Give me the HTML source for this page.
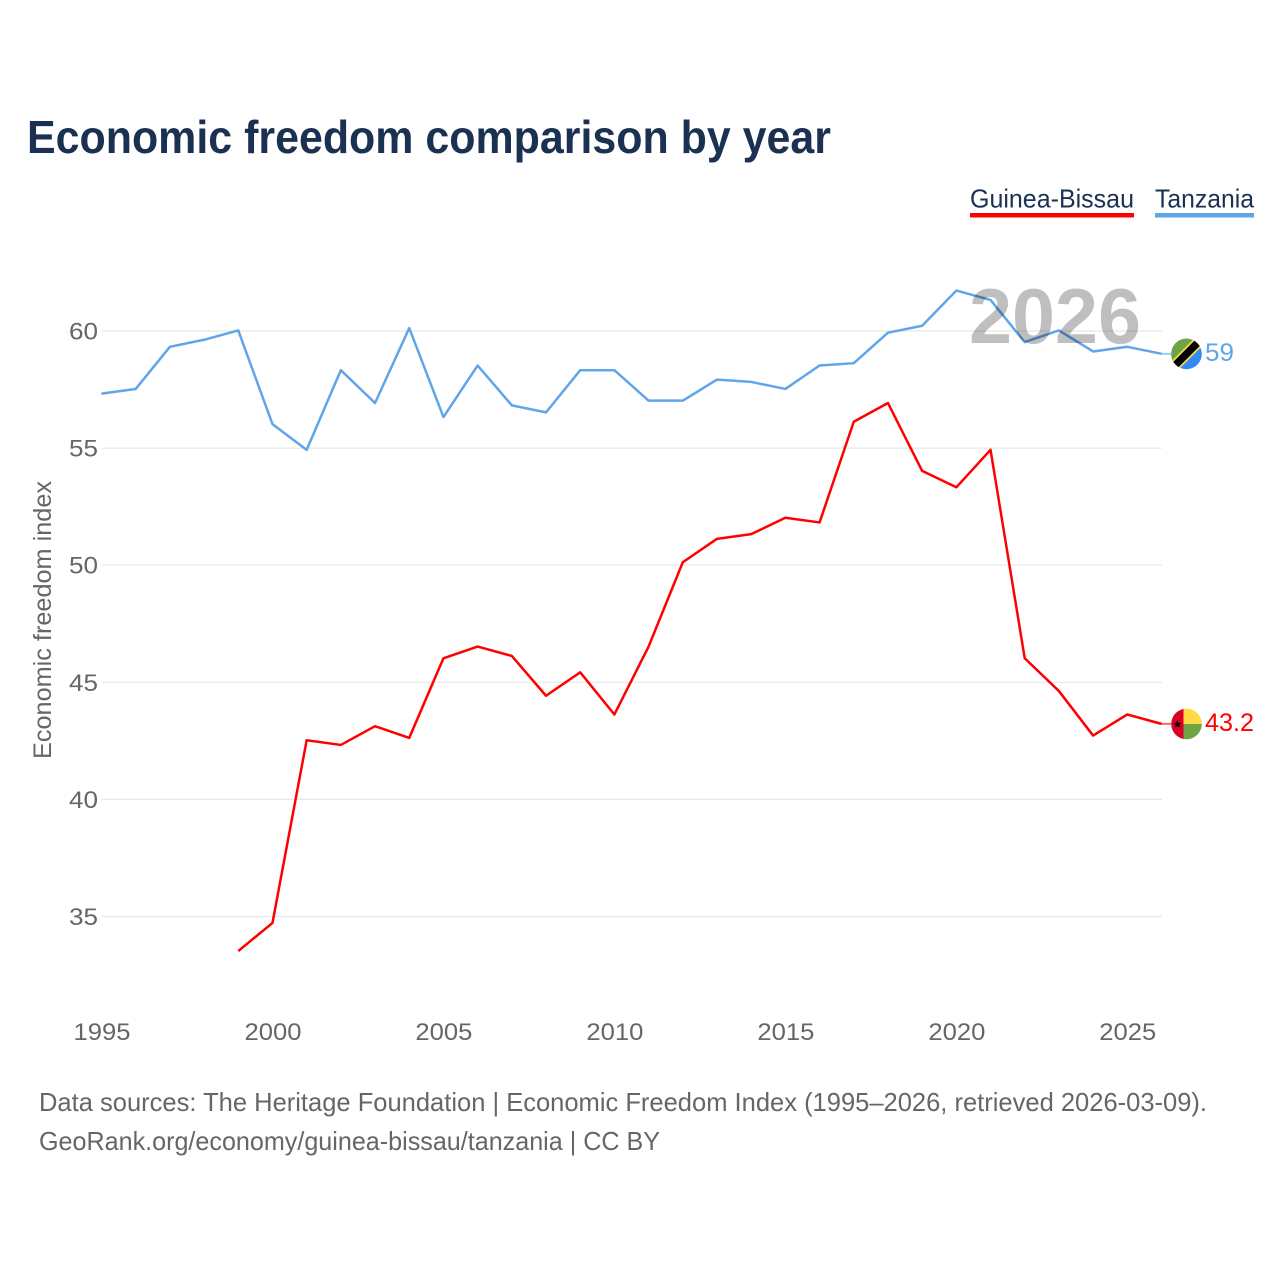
<!DOCTYPE html>
<html lang="en">
<head>
<meta charset="utf-8">
<title>Economic freedom comparison by year</title>
<style>
html,body{margin:0;padding:0;background:#fff;}
svg{display:block;font-family:"Liberation Sans",sans-serif;}
</style>
</head>
<body>
<svg id="chart" xmlns="http://www.w3.org/2000/svg" width="1280" height="1280" viewBox="0 0 1280 1280">
  <rect width="1280" height="1280" fill="#ffffff"/>
  <text x="27" y="153" font-size="46" font-weight="700" fill="#1a3152" textLength="804" lengthAdjust="spacingAndGlyphs">Economic freedom comparison by year</text>

  <g>
    <g>
      <text x="970" y="207.5" font-size="26" fill="#1a3152" textLength="164" lengthAdjust="spacingAndGlyphs">Guinea-Bissau</text>
      <rect x="970" y="213" width="164" height="4.5" fill="#ff0000"/>
    </g>
    <g>
      <text x="1155" y="207.5" font-size="26" fill="#1a3152" textLength="99" lengthAdjust="spacingAndGlyphs">Tanzania</text>
      <rect x="1155" y="213" width="99" height="4.5" fill="#60a5ea"/>
    </g>
  </g>

  <g id="grid"></g>
  <g id="yticks"></g>
  <g id="xticks"></g>

  <text transform="translate(51,759) rotate(-90)" font-size="25" fill="#666666" textLength="278" lengthAdjust="spacingAndGlyphs">Economic freedom index</text>

  <g id="series" transform="translate(-0.5,-0.6)"></g>

  <text x="969" y="343" font-size="78" font-weight="700" fill="#000000" fill-opacity="0.25" textLength="172" lengthAdjust="spacingAndGlyphs">2026</text>

  <defs>
    <clipPath id="clip-tz"><circle id="clip-tz-circle" r="15.3"/></clipPath>
    <clipPath id="clip-gw"><circle id="clip-gw-circle" r="15.3"/></clipPath>
  </defs>

  <g id="flag-tz" clip-path="url(#clip-tz)">
    <rect x="-16" y="-16" width="32" height="32" fill="#338af3"/>
    <polygon points="-16,-16 16,-16 -16,16" fill="#6da544"/>
    <line x1="-15" y1="15" x2="15" y2="-15" stroke="#ffda44" stroke-width="11"/>
    <line x1="-15" y1="15" x2="15" y2="-15" stroke="#000000" stroke-width="7.5"/>
  </g>

  <g id="flag-gw" clip-path="url(#clip-gw)">
    <rect x="-4" y="-16" width="20" height="16" fill="#ffda44"/>
    <rect x="-4" y="0" width="20" height="16" fill="#6da544"/>
    <rect x="-16" y="-16" width="13" height="32" fill="#d80027"/>
    <polygon points="-9,-3.6 -7.9,-0.9 -5,-0.9 -7.3,0.9 -6.5,3.6 -9,2 -11.5,3.6 -10.7,0.9 -13,-0.9 -10.1,-0.9" fill="#000000"/>
  </g>

  <text id="label-tz" x="1205" font-size="25" fill="#60a5ea" textLength="29" lengthAdjust="spacingAndGlyphs"></text>
  <text id="label-gw" x="1205" font-size="25" fill="#ff0000" textLength="49" lengthAdjust="spacingAndGlyphs"></text>

  <g>
    <text x="39" y="1111" font-size="26" fill="#666666" textLength="1168" lengthAdjust="spacingAndGlyphs">Data sources: The Heritage Foundation | Economic Freedom Index (1995–2026, retrieved 2026-03-09).</text>
    <text x="39" y="1150" font-size="26" fill="#666666" textLength="621" lengthAdjust="spacingAndGlyphs">GeoRank.org/economy/guinea-bissau/tanzania | CC BY</text>
  </g>
</svg>

<script>
const years = [1995,1996,1997,1998,1999,2000,2001,2002,2003,2004,2005,2006,2007,2008,2009,2010,2011,2012,2013,2014,2015,2016,2017,2018,2019,2020,2021,2022,2023,2024,2025,2026];
const tanzaniaValues = [57.3,57.5,59.3,59.6,60,56,54.9,58.3,56.9,60.1,56.3,58.5,56.8,56.5,58.3,58.3,57,57,57.9,57.8,57.5,58.5,58.6,59.9,60.2,61.7,61.3,59.5,60,59.1,59.3,59];
const guineaBissauValues = [null,null,null,null,33.5,34.7,42.5,42.3,43.1,42.6,46,46.5,46.1,44.4,45.4,43.6,46.5,50.1,51.1,51.3,52,51.8,56.1,56.9,54,53.3,54.9,46,44.6,42.7,43.6,43.2];
const yTicks = [35,40,45,50,55,60];
const xTicks = [1995,2000,2005,2010,2015,2020,2025];

const NS = 'http://www.w3.org/2000/svg';
function xScale(year){ return 102 + (year - 1995) * (1162 - 102) / 31; }
function yScale(v){ return 331 + (60 - v) * (916.5 - 331) / 25; }
function make(tag, parent){
  const el = document.createElementNS(NS, tag);
  parent.appendChild(el);
  return el;
}

const gridGroup = document.getElementById('grid');
const yTickGroup = document.getElementById('yticks');
yTicks.forEach(function(t){
  const line = make('line', gridGroup);
  
  
  line.setAttribute('x1', 102);
  line.setAttribute('x2', 1162);
  line.setAttribute('y1', yScale(t));
  line.setAttribute('y2', yScale(t));
  line.setAttribute('stroke', '#e8e8e8');
  line.setAttribute('stroke-width', '1.2');
  const label = make('text', yTickGroup);
  
  
  label.setAttribute('x', 69);
  label.setAttribute('y', yScale(t) + 8.5);
  label.setAttribute('font-size', '24');
  label.setAttribute('fill', '#666666');
  label.setAttribute('textLength', '29');
  label.setAttribute('lengthAdjust', 'spacingAndGlyphs');
  label.textContent = t;
});

const xTickGroup = document.getElementById('xticks');
xTicks.forEach(function(t){
  const label = make('text', xTickGroup);
  
  
  label.setAttribute('x', xScale(t));
  label.setAttribute('y', 1040);
  label.setAttribute('text-anchor', 'middle');
  label.setAttribute('font-size', '24');
  label.setAttribute('fill', '#666666');
  label.setAttribute('textLength', '57');
  label.setAttribute('lengthAdjust', 'spacingAndGlyphs');
  label.textContent = t;
});

function linePoints(values){
  const pts = [];
  values.forEach(function(v, i){
    if (v !== null) pts.push(xScale(years[i]).toFixed(2) + ',' + yScale(v).toFixed(2));
  });
  return pts.join(' ');
}
const seriesGroup = document.getElementById('series');

const tzLine = make('polyline', seriesGroup);


tzLine.setAttribute('points', linePoints(tanzaniaValues));
tzLine.setAttribute('fill', 'none');
tzLine.setAttribute('stroke', '#60a5ea');
tzLine.setAttribute('stroke-width', '2.5');
tzLine.setAttribute('stroke-linejoin', 'round');

const gwLine = make('polyline', seriesGroup);


gwLine.setAttribute('points', linePoints(guineaBissauValues));
gwLine.setAttribute('fill', 'none');
gwLine.setAttribute('stroke', '#ff0000');
gwLine.setAttribute('stroke-width', '2.5');
gwLine.setAttribute('stroke-linejoin', 'round');

const tzConnector = make('line', seriesGroup);



const gwConnector = make('line', seriesGroup);



function placeEnd(values, flagId, clipId, labelId, connector, color){
  const last = values[values.length - 1];
  const y = yScale(last);
  const x = xScale(years[years.length - 1]);
  const cx = x + 24.5;
  document.getElementById(flagId).setAttribute('transform', 'translate(' + cx + ',' + (y - 0.5) + ')');
  const clip = document.getElementById(clipId);
  clip.setAttribute('cx', 0);
  clip.setAttribute('cy', 0);
  connector.setAttribute('x1', x);
  connector.setAttribute('x2', cx - 15);
  connector.setAttribute('y1', y);
  connector.setAttribute('y2', y);
  connector.setAttribute('stroke', color);
  connector.setAttribute('stroke-width', '2');
  connector.setAttribute('stroke-opacity', '0.6');
  const label = document.getElementById(labelId);
  label.setAttribute('y', y + 6.5);
  label.textContent = last;
}
placeEnd(tanzaniaValues, 'flag-tz', 'clip-tz-circle', 'label-tz', tzConnector, '#60a5ea');
placeEnd(guineaBissauValues, 'flag-gw', 'clip-gw-circle', 'label-gw', gwConnector, '#ff0000');
</script>
</body>
</html>
